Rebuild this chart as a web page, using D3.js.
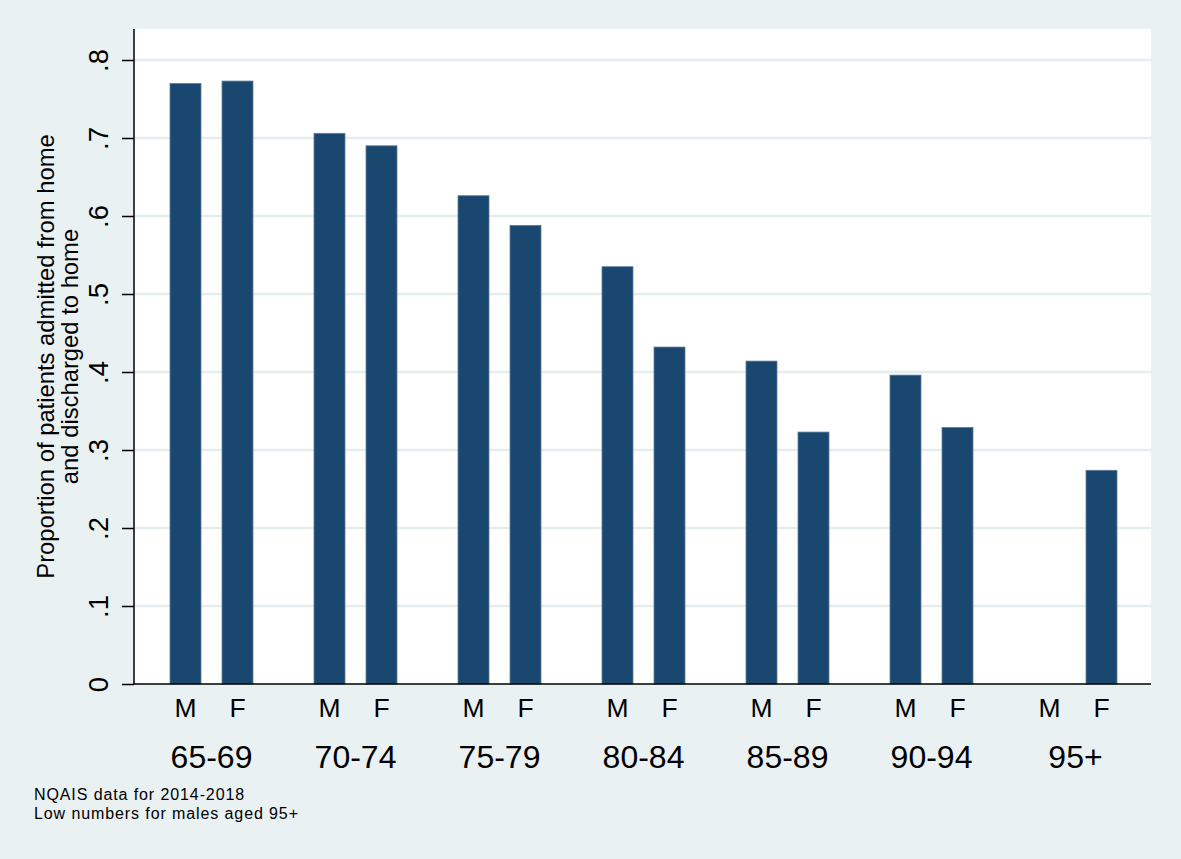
<!DOCTYPE html>
<html>
<head>
<meta charset="utf-8">
<script src="https://cdn.jsdelivr.net/npm/d3@7"></script>
<style>
  body { margin: 0; background: #eaf2f3; }
  svg { display: block; font-family: Arial, "Liberation Sans", Helvetica, sans-serif; }
</style>
</head>
<body>
<svg width="1181" height="859"></svg>
<script>
// data
const ageGroups = ['65-69', '70-74', '75-79', '80-84', '85-89', '90-94', '95+']
const sexes = ['M', 'F']
const maleValues = [0.770, 0.706, 0.626, 0.535, 0.414, 0.396, null]
const femaleValues = [0.773, 0.690, 0.588, 0.432, 0.323, 0.329, 0.274]
const yTicks = [0, 0.1, 0.2, 0.3, 0.4, 0.5, 0.6, 0.7, 0.8]
const yTitle = ['Proportion of patients admitted from home', 'and discharged to home']
const notes = ['NQAIS data for 2014-2018', 'Low numbers for males aged 95+']

let bars = []
ageGroups.forEach((g, i) => {
    bars.push({ group: g, sex: 'M', value: maleValues[i] })
    bars.push({ group: g, sex: 'F', value: femaleValues[i] })
})

let svg = d3.select('svg')
let plot = { left: 134, right: 1151, top: 29, bottom: 684 }

// background
svg.append('rect')
    .attr('width', 1181).attr('height', 859)
    .attr('fill', '#e9f1f2')

svg.append('rect')
    .attr('x', plot.left).attr('y', plot.top)
    .attr('width', plot.right - plot.left)
    .attr('height', plot.bottom - plot.top)
    .attr('fill', '#ffffff')

let scale = {
    group: d3.scaleBand().domain(ageGroups).range([148, 1156]).paddingInner(0).paddingOuter(0),
    y: d3.scaleLinear().domain([0, 0.8]).range([plot.bottom, 60])
}
scale.sex = d3.scaleBand().domain(sexes).range([22, 105]).paddingInner(0.404).paddingOuter(0)

// gridlines
svg.append('g')
    .selectAll('line')
    .data(yTicks.filter(t => t > 0))
    .enter()
    .append('line')
    .attr('x1', plot.left).attr('x2', plot.right)
    .attr('y1', d => scale.y(d)).attr('y2', d => scale.y(d))
    .attr('stroke', '#e4eef0')
    .attr('stroke-width', 2.5)

// bars
svg.append('g')
    .selectAll('rect')
    .data(bars.filter(d => d.value != null))
    .enter()
    .append('rect')
    .attr('x', d => scale.group(d.group) + scale.sex(d.sex))
    .attr('y', d => scale.y(d.value))
    .attr('width', scale.sex.bandwidth())
    .attr('height', d => scale.y(0) - scale.y(d.value))
    .attr('fill', '#1a476f')
    .attr('stroke', '#5f7f9c')
    .attr('stroke-width', 0.8)

// Y axis
let yAxis = d3.axisLeft(scale.y)
    .tickValues(yTicks)
    .tickSize(12)
    .tickFormat(d => d === 0 ? '0' : d3.format('.1f')(d).replace(/^0/, ''))

let gy = svg.append('g')
    .attr('transform', `translate(${plot.left},0)`)
    .call(yAxis)
gy.select('.domain')
    .attr('d', `M0,${plot.top}V${plot.bottom}`)
    .attr('stroke', '#000').attr('stroke-width', 1.5)
gy.selectAll('.tick line').attr('stroke', '#000').attr('stroke-width', 1.5)
gy.selectAll('.tick text')
    .attr('x', 0).attr('dy', 0)
    .attr('transform', 'translate(-26,0) rotate(-90)')
    .attr('text-anchor', 'middle')
    .attr('font-size', 27.5)
    .attr('font-family', 'Arial, "Liberation Sans", sans-serif')
    .attr('fill', '#000')

// X axis line
svg.append('line')
    .attr('x1', plot.left).attr('x2', plot.right)
    .attr('y1', plot.bottom).attr('y2', plot.bottom)
    .attr('stroke', '#000').attr('stroke-width', 1.5)

// sex labels
svg.append('g')
    .selectAll('text')
    .data(bars)
    .enter()
    .append('text')
    .attr('x', d => scale.group(d.group) + scale.sex(d.sex) + scale.sex.bandwidth() / 2)
    .attr('y', 717)
    .attr('text-anchor', 'middle')
    .attr('font-size', 26.5)
    .text(d => d.sex)

// age group labels
svg.append('g')
    .selectAll('text')
    .data(ageGroups)
    .enter()
    .append('text')
    .attr('x', d => scale.group(d) + (scale.sex('M') + scale.sex('F') + scale.sex.bandwidth()) / 2)
    .attr('y', 768)
    .attr('text-anchor', 'middle')
    .attr('font-size', 32)
    .text(d => d)

// Y title
svg.append('text')
    .attr('transform', `translate(0,${(plot.top + plot.bottom) / 2}) rotate(-90)`)
    .attr('text-anchor', 'middle')
    .attr('font-size', 23.8)
    .selectAll('tspan')
    .data(yTitle)
    .enter()
    .append('tspan')
    .attr('x', 0)
    .attr('y', (d, i) => 54 + i * 24)
    .text(d => d)

// notes
svg.append('g')
    .selectAll('text')
    .data(notes)
    .enter()
    .append('text')
    .attr('x', 34)
    .attr('y', (d, i) => 800 + i * 19)
    .attr('font-size', 16)
    .attr('letter-spacing', 0.9)
    .text(d => d)
</script>
</body>
</html>
